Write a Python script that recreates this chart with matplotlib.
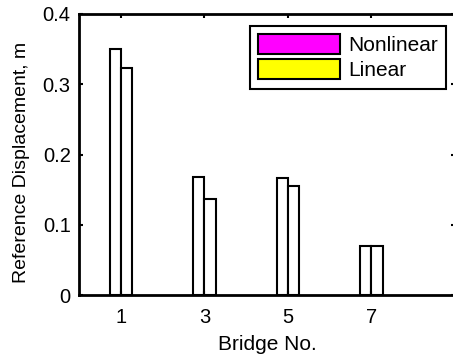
import numpy as np
import matplotlib
matplotlib.use('Agg')
import matplotlib.pyplot as plt
from matplotlib.patches import Patch

# datos
bridges = [1, 3, 5, 7]
nonlinear = [0.350, 0.168, 0.166, 0.070]
linear = [0.323, 0.137, 0.155, 0.070]
series_names = ['Nonlinear', 'Linear']
legend_colors = ['#ff00ff', '#ffff00']

plt.rcParams['font.family'] = ['Liberation Sans', 'DejaVu Sans']

fig = plt.figure(figsize=(4.53, 3.56), dpi=100)
ax = fig.add_axes([0.1744, 0.1713, 0.8300, 0.7894])

w = 0.27
x = np.array(bridges)
ax.bar(x - w / 2, nonlinear, w, color='white', edgecolor='black', linewidth=1.5)
ax.bar(x + w / 2, linear, w, color='white', edgecolor='black', linewidth=1.5)

ax.set_xlim(0, 9)
ax.set_ylim(0, 0.4)
ax.set_xticks(bridges)
ax.set_yticks([0, 0.1, 0.2, 0.3, 0.4])
ax.set_yticklabels(['0', '0.1', '0.2', '0.3', '0.4'])
ax.tick_params(direction='in', length=3, width=1.5, labelsize=14.5, pad=6,
               top=True, right=True, colors='black')
ax.tick_params(axis='x', pad=9)
for s in ax.spines.values():
    s.set_linewidth(2)
ax.set_xlabel('Bridge No.', fontsize=15, labelpad=6)
ax.set_ylabel('Reference Displacement, m', fontsize=14)
ax.yaxis.set_label_coords(-0.131, 0.47)

handles = [Patch(facecolor=c, edgecolor='black', linewidth=1.5) for c in legend_colors]
leg = ax.legend(handles, series_names, loc='upper right', bbox_to_anchor=(0.976, 0.958),
                fontsize=15, fancybox=False, framealpha=1, edgecolor='black',
                handlelength=3.9, handleheight=1.1, handletextpad=0.4,
                borderpad=0.4, labelspacing=0.2, borderaxespad=0)
leg.get_frame().set_linewidth(1.5)

fig.savefig('out.png', dpi=100)
